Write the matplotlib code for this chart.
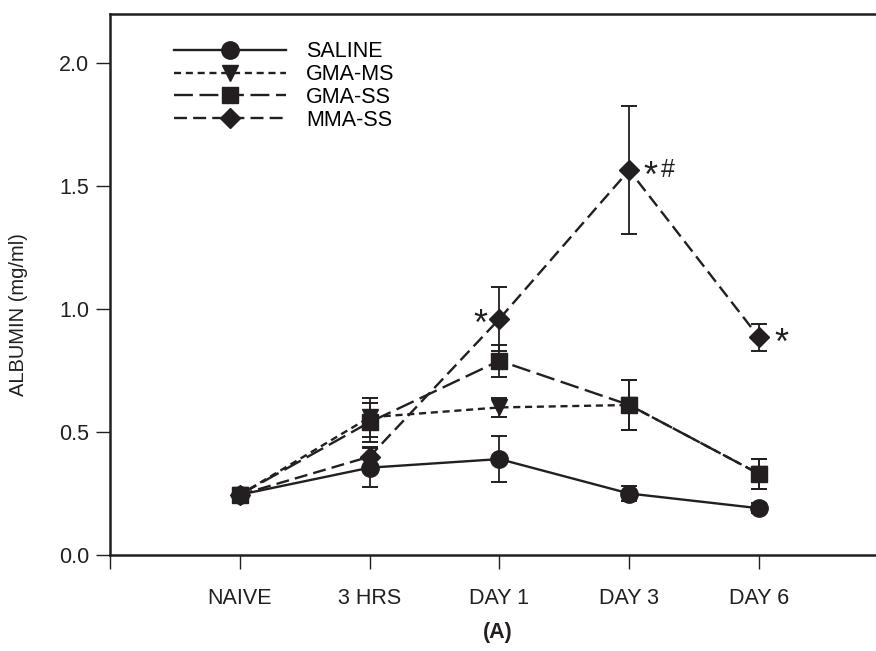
import matplotlib.pyplot as plt

plt.rcParams['font.family'] = ['Liberation Sans', 'DejaVu Sans']

# -------- DATA --------
timepoints = ['NAIVE', '3 HRS', 'DAY 1', 'DAY 3', 'DAY 6']

saline = [0.245, 0.355, 0.39, 0.25, 0.19]
saline_err = [0.0, 0.08, 0.095, 0.03, 0.02]

gma_ms = [0.245, 0.56, 0.60, 0.61, 0.33]
gma_ms_err = [0.0, 0.08, 0.04, 0.10, 0.06]

gma_ss = [0.245, 0.54, 0.79, 0.61, 0.33]
gma_ss_err = [0.0, 0.08, 0.065, 0.10, 0.06]

mma_ss = [0.245, 0.40, 0.96, 1.565, 0.885]
mma_ss_err = [0.0, 0.04, 0.13, 0.26, 0.055]

# significance marks on MMA-SS: (timepoint index, symbol, x offset in points)
marks = [(2, '*', -14), (3, '*', 15), (3, '#', 28), (4, '*', 16)]
# -------- DATA. --------

ink = '#231f20'
x = list(range(len(timepoints)))

fig = plt.figure(figsize=(8.76, 6.51), dpi=100)
ax = fig.add_axes([0.1256, 0.1475, 0.889, 0.831])

series = [
    ('SALINE', saline, saline_err, 'o', 12.5, '-'),
    ('GMA-MS', gma_ms, gma_ms_err, 'v', 12, (0, (3, 2))),
    ('GMA-SS', gma_ss, gma_ss_err, 's', 11, (0, (8, 2.8))),
    ('MMA-SS', mma_ss, mma_ss_err, 'D', 10, (0, (5.5, 2.6))),
]

handles = []
for name, vals, err, mk, ms, ls in series:
    ax.errorbar(x, vals, yerr=err, fmt='none', ecolor=ink, elinewidth=1.3,
                capsize=6, capthick=1.4, zorder=2)
    line, = ax.plot(x, vals, color=ink, linestyle=ls, linewidth=1.7,
                    marker=mk, markersize=ms, markerfacecolor=ink,
                    markeredgecolor=ink, label=name, zorder=3)
    handles.append(line)

for idx, sym, dx in marks:
    if sym == '*':
        ax.annotate(sym, (x[idx], mma_ss[idx]), xytext=(dx, -5),
                    textcoords='offset points', ha='center', va='center',
                    fontsize=26, color=ink)
    else:
        ax.annotate(sym, (x[idx], mma_ss[idx]), xytext=(dx, 0),
                    textcoords='offset points', ha='center', va='center',
                    fontsize=18, color=ink)

ax.set_xlim(-1, 5)
ax.set_ylim(0, 2.2)
ax.set_xticks([-1] + x)
ax.set_xticklabels([''] + timepoints)
ax.set_yticks([0.0, 0.5, 1.0, 1.5, 2.0])
ax.set_yticklabels(['0.0', '0.5', '1.0', '1.5', '2.0'])

ax.tick_params(axis='both', direction='out', length=10, width=1.0,
               colors=ink, labelsize=15.5, pad=5)
ax.tick_params(axis='x', pad=14)
for side in ['left', 'bottom', 'top']:
    ax.spines[side].set_linewidth(1.8)
    ax.spines[side].set_color(ink)
ax.spines['right'].set_visible(False)

ax.set_ylabel('ALBUMIN (mg/ml)', fontsize=14.5, color=ink)
ax.yaxis.set_label_coords(-0.105, 0.445)
fig.text(0.5685, 0.012, '(A)', fontsize=15.5, fontweight='bold', color=ink,
         ha='center', va='bottom')

legend = ax.legend(handles=handles, loc='upper left', frameon=False,
                   fontsize=15.5, handlelength=5.2, numpoints=1,
                   labelspacing=0.08, handletextpad=0.93,
                   bbox_to_anchor=(0.057, 0.985))

plt.savefig('out.png', dpi=100)
